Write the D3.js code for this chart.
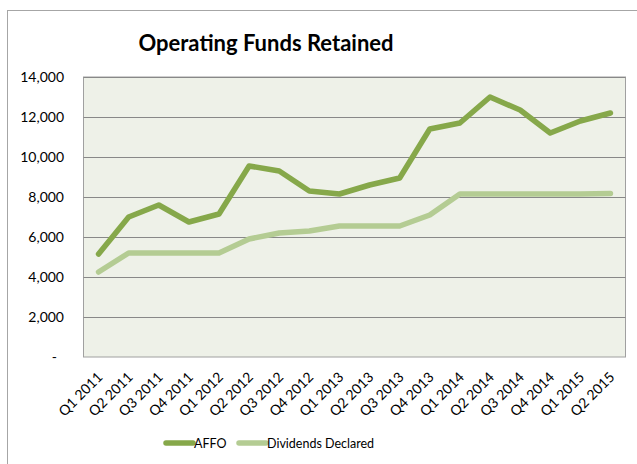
<!DOCTYPE html>
<html><head><meta charset="utf-8">
<script src="https://cdn.jsdelivr.net/npm/d3@7"></script>
<style>body{margin:0;background:#fff}svg{display:block}</style>
</head><body>
<svg id="c" width="637" height="464"></svg>
<script>
const categories = ["Q1 2011","Q2 2011","Q3 2011","Q4 2011","Q1 2012","Q2 2012","Q3 2012","Q4 2012","Q1 2013","Q2 2013","Q3 2013","Q4 2013","Q1 2014","Q2 2014","Q3 2014","Q4 2014","Q1 2015","Q2 2015"];
const affo = [5150,7000,7600,6750,7150,9550,9300,8300,8150,8600,8950,11400,11700,13000,12350,11200,11800,12200];
const dividends = [4250,5200,5200,5200,5200,5900,6200,6300,6550,6550,6550,7100,8150,8150,8150,8150,8150,8180];
const yTicks = [0,2000,4000,6000,8000,10000,12000,14000];
const seriesNames = ["AFFO","Dividends Declared"];
const seriesColors = ["#86a84a","#b4cc93"];

const svg = d3.select("#c");
const font = "Lato, 'Noto Sans', sans-serif";
// outer frame
svg.append("rect").attr("x",7.5).attr("y",10.5).attr("width",640).attr("height",470)
  .attr("fill","#fff").attr("stroke","#a6a6a6").attr("stroke-width",1);

const L=83.5, R=625.5, T=77, B=357;
const x = d3.scaleBand().domain(categories).range([L,R]);
const y = d3.scaleLinear().domain([0,14000]).range([B,T]);

svg.append("rect").attr("x",L).attr("y",T).attr("width",R-L).attr("height",B-T)
  .attr("fill","#eef1e8").attr("stroke","#a0a0a0").attr("stroke-width",1);

// gridlines
svg.append("g").selectAll("line").data(yTicks.filter(d=>d>0)).join("line")
  .attr("x1",L).attr("x2",R).attr("y1",d=>Math.round(y(d))+0.5).attr("y2",d=>Math.round(y(d))+0.5)
  .attr("stroke","#888").attr("stroke-width",1);

// y labels
svg.append("g").selectAll("text").data(yTicks).join("text")
  .attr("x",d=>d===0?57:64).attr("y",d=>y(d)+5)
  .attr("text-anchor","end").attr("font-family",font).attr("font-size",14).attr("fill","#000")
  .text(d=>d===0?"-":d3.format(",")(d));

// x labels
svg.append("g").selectAll("text").data(categories).join("text")
  .attr("transform",d=>`translate(${x(d)+x.bandwidth()/2+5},${B+21}) rotate(-45)`)
  .attr("text-anchor","end").attr("font-family",font).attr("font-size",14).attr("fill","#000")
  .text(d=>d);

const line = d3.line().x((d,i)=>x(categories[i])+x.bandwidth()/2).y(d=>y(d));
[dividends, affo].forEach((s,k)=>{
  const idx = k===0?1:0;
  svg.append("path").attr("d",line(s)).attr("fill","none")
    .attr("stroke",seriesColors[idx]).attr("stroke-width",5.5)
    .attr("stroke-linejoin","round").attr("stroke-linecap","round");
});

// title
svg.append("text").attr("x",266).attr("y",51).attr("text-anchor","middle")
  .attr("font-family",font).attr("font-weight","bold").attr("font-size",22).attr("fill","#000")
  .text("Operating Funds Retained");

// legend
const lg = [{x:166,tx:194},{x:239,tx:267}];
seriesNames.forEach((n,i)=>{
  svg.append("line").attr("x1",lg[i].x).attr("x2",lg[i].x+27).attr("y1",443).attr("y2",443)
    .attr("stroke",seriesColors[i]).attr("stroke-width",5.5).attr("stroke-linecap","round");
  svg.append("text").attr("x",lg[i].tx).attr("y",447.5).attr("font-family",font).attr("font-size",12.5)
    .attr("fill","#000").text(n);
});
</script>
</body></html>
